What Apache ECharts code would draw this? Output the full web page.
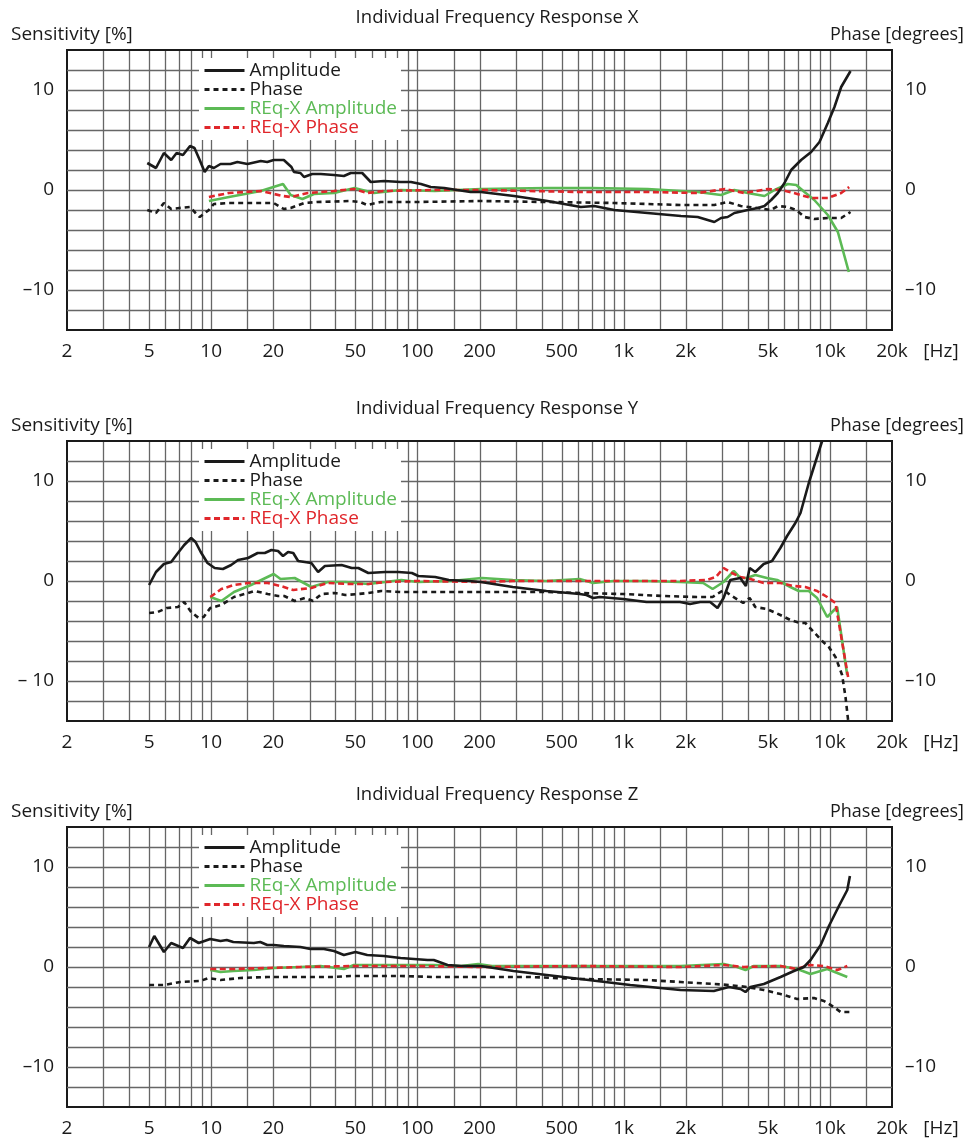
<!DOCTYPE html>
<html>
<head>
<meta charset="utf-8">
<title>Individual Frequency Response</title>
<script src="https://cdn.jsdelivr.net/npm/echarts@6/dist/echarts.min.js"></script>
<style>
html, body { margin: 0; padding: 0; background: #fff; }
#main { width: 971px; height: 1139px; }
</style>
</head>
<body>
<div id="main"></div>
<script>
// ---- data: [frequency Hz, value] ----
var ampX = [[4.9,2.7],[5.4,2.2],[5.9,3.7],[6.4,3.0],[6.8,3.7],[7.3,3.5],[7.9,4.4],[8.3,4.2],[8.8,3.0],[9.3,1.8],[9.75,2.4],[10.3,2.2],[11.1,2.6],[12.4,2.6],[13.4,2.8],[15,2.6],[17.4,2.9],[18.7,2.8],[20.1,3.0],[22.5,3.0],[24.5,2.3],[25.2,1.8],[27.1,1.7],[28.2,1.3],[30.9,1.6],[34,1.6],[39.4,1.5],[44,1.4],[47.5,1.7],[54,1.7],[59.4,0.8],[68.9,0.9],[83,0.8],[93,0.8],[104,0.6],[116,0.3],[135,0.2],[156,0],[181,-0.2],[203,-0.2],[294,-0.6],[427,-1.1],[620,-1.7],[720,-1.6],[900,-2.0],[1306,-2.3],[1896,-2.6],[2285,-2.7],[2752,-3.2],[2966,-2.8],[3193,-2.7],[3442,-2.3],[3993,-2.0],[4467,-1.8],[4815,-1.6],[5188,-1.0],[5588,-0.3],[6025,0.7],[6490,2.0],[7250,3.0],[8110,3.8],[8900,4.8],[9770,6.7],[10520,8.3],[11340,10.3],[12590,11.9]];
var phaseX = [[4.9,-2.0],[5.4,-2.3],[5.9,-1.3],[6.4,-1.9],[7.0,-1.8],[7.9,-1.7],[8.4,-2.3],[8.8,-2.7],[9.75,-2.0],[10.3,-1.4],[12.2,-1.3],[15.2,-1.3],[20.1,-1.3],[22.5,-1.9],[24.3,-1.8],[28.2,-1.3],[32.5,-1.2],[47.5,-1.1],[52.7,-1.2],[57,-1.5],[66.3,-1.2],[100,-1.2],[203,-1.1],[427,-1.2],[900,-1.3],[1896,-1.5],[2752,-1.5],[3193,-1.2],[3700,-1.6],[4467,-1.8],[5188,-2.0],[5588,-1.6],[6250,-1.7],[6870,-2.0],[7530,-2.7],[8400,-2.9],[9770,-2.8],[11340,-2.8],[12590,-2.2]];
var reqAmpX = [[9.75,-1.1],[12.2,-0.7],[17.4,-0.1],[22.3,0.6],[24.3,-0.5],[27.7,-0.9],[31.5,-0.4],[39.4,-0.3],[49.5,0.2],[61.6,-0.3],[83,0],[121,-0.1],[203,0.1],[427,0.2],[694,0.2],[1306,0.1],[2285,-0.2],[2966,-0.5],[3442,0],[3993,-0.3],[4815,-0.6],[5390,0],[6250,0.6],[6870,0.5],[7530,-0.2],[8400,-1.0],[9770,-2.5],[10930,-4.2],[12350,-8.2]];
var reqPhaseX = [[9.75,-0.7],[12.2,-0.3],[17.4,-0.1],[22.3,-0.6],[24.3,-0.7],[29.4,-0.3],[39.4,-0.1],[49.5,0.1],[57,-0.3],[68.9,-0.1],[121,0],[203,0],[620,-0.2],[1306,-0.2],[2285,-0.3],[3100,0.1],[3850,-0.3],[5000,0.1],[5800,0],[6700,-0.3],[8110,-0.8],[9770,-0.8],[11340,-0.3],[12400,0.3]];

var ampY = [[5.0,-0.4],[5.4,0.9],[5.9,1.7],[6.4,1.9],[6.9,2.8],[7.4,3.6],[8.0,4.3],[8.4,3.9],[8.9,2.9],[9.6,1.8],[10.4,1.3],[11.4,1.2],[12.5,1.6],[13.5,2.1],[15.1,2.3],[16.8,2.8],[18.2,2.8],[19.6,3.1],[21.1,3.0],[22.3,2.5],[23.6,2.9],[25,2.8],[26.4,2.0],[30.6,1.8],[33,0.9],[35.6,1.5],[42.9,1.6],[48,1.3],[51.7,1.3],[57.8,0.8],[69.7,0.9],[80.9,0.9],[94,0.8],[101,0.5],[122,0.4],[142,0.1],[177,0],[203,-0.1],[290,-0.6],[422,-1.0],[612,-1.3],[660,-1.4],[711,-1.7],[766,-1.6],[995,-1.8],[1291,-2.1],[1876,-2.1],[2099,-2.3],[2350,-2.1],[2626,-2.1],[2851,-2.7],[3050,-1.7],[3287,0.1],[3675,0.3],[3915,-0.5],[4082,1.3],[4347,0.9],[4775,1.7],[5240,2.0],[5750,3.3],[6200,4.5],[6800,5.8],[7200,6.8],[7900,9.8],[8510,11.9],[9170,14.0]];
var phaseY = [[5.0,-3.2],[5.5,-3.1],[6.1,-2.7],[6.9,-2.6],[7.4,-2.1],[8.0,-3.1],[8.7,-3.7],[9.2,-3.6],[9.9,-2.7],[11.2,-2.4],[12.9,-1.6],[15.1,-1.2],[16.3,-1.0],[18.8,-1.3],[21.1,-1.5],[22.6,-1.5],[25.4,-2.0],[28.5,-1.7],[31.2,-2.0],[34.3,-1.3],[39.8,-1.2],[44.7,-1.4],[51.7,-1.3],[57.8,-1.2],[66.7,-1.0],[83.5,-1.1],[97,-1.1],[122,-1.1],[203,-1.1],[422,-1.1],[612,-1.2],[995,-1.3],[1560,-1.5],[2265,-1.6],[2700,-1.6],[3050,-0.9],[3287,-1.4],[3800,-2.2],[4082,-1.7],[4347,-2.6],[4950,-2.8],[5750,-3.4],[6430,-3.9],[7200,-4.2],[7600,-4.2],[8350,-5.1],[9170,-6.0],[9880,-6.6],[10640,-7.6],[11460,-9.4],[11900,-11.6],[12250,-13.9]];
var reqAmpY = [[9.9,-1.6],[11.2,-2.0],[12.9,-1.1],[15.6,-0.4],[17.5,0.1],[20.1,0.7],[21.7,0.2],[25.4,0.3],[30.6,-0.6],[36.8,-0.1],[44.7,-0.1],[57.8,-0.3],[69.7,-0.1],[83.5,0.1],[101,-0.1],[146,0],[206,0.3],[290,0.1],[422,0.0],[612,0.2],[711,-0.2],[890,0],[1291,0],[1876,-0.1],[2430,-0.2],[2700,-0.8],[3050,-0.1],[3420,1.0],[3675,0.3],[3960,0.3],[4347,0.6],[4950,0.3],[5550,0.1],[6430,-0.6],[7060,-1.0],[7900,-1.0],[8670,-1.7],[9700,-3.6],[10840,-2.6],[12130,-9.4]];
var reqPhaseY = [[9.9,-1.6],[11.2,-0.8],[12.9,-0.4],[15.1,-0.2],[18.8,-0.2],[21.7,-0.5],[25,-0.9],[30.6,-0.7],[36.8,-0.2],[48,-0.3],[57.8,-0.3],[69.7,-0.1],[101,0],[203,-0.1],[290,0],[612,0],[1291,0],[1876,0],[2520,0.1],[2800,0.4],[3050,1.3],[3350,0.8],[3675,0.4],[4110,0.2],[4775,-0.2],[5750,-0.2],[6650,-0.5],[7600,-0.6],[8670,-1.0],[9700,-1.6],[10640,-2.2],[12250,-9.6]];

var ampZ = [[5.0,2.0],[5.3,3.1],[5.9,1.5],[6.4,2.4],[7.3,1.9],[7.9,2.9],[8.7,2.4],[9.9,2.8],[11.1,2.6],[11.9,2.7],[12.8,2.5],[16.1,2.4],[17.3,2.5],[18.7,2.2],[20.1,2.2],[22.5,2.1],[27.1,2.0],[30.3,1.8],[35.2,1.8],[39.4,1.6],[44,1.2],[50.1,1.5],[57.1,1.2],[68.8,1.1],[82.9,0.9],[96.3,0.8],[112,0.7],[120,0.7],[140,0.2],[163,0.1],[203,0.1],[292,-0.4],[424,-0.8],[616,-1.2],[894,-1.6],[1077,-1.8],[1506,-2.1],[1884,-2.3],[2735,-2.4],[3235,-2.0],[3685,-2.2],[3896,-2.5],[4120,-2.0],[4783,-1.7],[5763,-1.0],[6690,-0.4],[7480,0],[8060,0.7],[9020,2.2],[9890,4.1],[11060,6.1],[12140,7.7],[12500,9.1]];
var phaseZ = [[5.0,-1.8],[5.9,-1.8],[7.1,-1.5],[8.85,-1.4],[9.7,-1.1],[11.1,-1.3],[13.8,-1.1],[18.7,-1.0],[39.4,-1.0],[47.5,-0.9],[57.1,-0.9],[82.9,-0.9],[120,-1.0],[352,-1.0],[616,-1.2],[1298,-1.3],[1884,-1.5],[2735,-1.7],[3235,-1.8],[3960,-2.0],[4783,-2.3],[5763,-2.7],[6940,-3.2],[8370,-3.1],[9350,-3.4],[10460,-4.0],[11270,-4.5],[12500,-4.5]];
var reqAmpZ = [[9.9,-0.3],[11.1,-0.5],[12.8,-0.4],[16.1,-0.3],[20.1,-0.1],[27.1,0],[33.9,0.1],[44,-0.2],[49.2,0.2],[68.8,0.2],[100,0.2],[120,0.2],[163,0.1],[197,0.3],[230,0.1],[424,0.1],[1205,0.1],[1884,0.1],[3060,0.3],[3550,0],[3896,-0.3],[4280,0.1],[5763,0.1],[6940,-0.2],[8060,-0.7],[9710,-0.2],[12140,-1.0]];
var reqPhaseZ = [[9.9,-0.2],[12.8,-0.2],[18.7,-0.1],[27.1,0],[49.2,0.1],[100,0.1],[203,0],[616,0.1],[1884,0],[3060,0.2],[3820,0],[5763,0.1],[6940,-0.2],[7900,0.2],[9350,0.1],[10860,-0.3],[12140,0.1]];

// x tick labels and the frequencies that get a vertical grid line
var xLabelVals = [2, 5, 10, 20, 50, 100, 200, 500, 1000, 2000, 5000, 10000, 20000];
var xLabelText = ['2', '5', '10', '20', '50', '100', '200', '500', '1k', '2k', '5k', '10k', '20k'];
var gridMults = [1, 1.5, 2, 3, 4, 5, 6, 7, 8, 9];
var legendNames = ['Amplitude', 'Phase', 'REq-X Amplitude', 'REq-X Phase'];

var FONT = '"Open Sans", "Noto Sans", sans-serif';
var BLACK = '#1a1a1a', GREEN = '#5cba55', RED = '#e0262b', GRIDC = '#666666';
var FS = 19;
var gridTops = [50, 441, 827];

var panels = [
	{ title: 'Individual Frequency Response X', amp: ampX, phase: phaseX, reqAmp: reqAmpX, reqPhase: reqPhaseX, minus: '–10' },
	{ title: 'Individual Frequency Response Y', amp: ampY, phase: phaseY, reqAmp: reqAmpY, reqPhase: reqPhaseY, minus: '– 10' },
	{ title: 'Individual Frequency Response Z', amp: ampZ, phase: phaseZ, reqAmp: reqAmpZ, reqPhase: reqPhaseZ, minus: '–10' }
];

function lineSeries(name, data, g, yIdx, color, dash) {
	return {
		name: name,
		type: 'line',
		xAxisIndex: g,
		yAxisIndex: yIdx,
		data: data,
		symbol: 'none',
		silent: true,
		animation: false,
		lineStyle: { color: color, width: 2.6, type: dash || 'solid' },
		itemStyle: { color: color }
	};
}

function yAxis(g, pos, minus, grid) {
	return {
		gridIndex: g,
		type: 'value',
		position: pos,
		min: -14,
		max: 14,
		interval: 2,
		axisLine: { show: false },
		axisTick: { show: false },
		splitLine: {
			show: grid,
			showMinLine: false,
			showMaxLine: false,
			lineStyle: { color: GRIDC, width: 1.3 }
		},
		axisLabel: {
			margin: 13,
			fontSize: FS,
			fontFamily: FONT,
			color: BLACK,
			formatter: function(v) {
				if (v === 10) return '10';
				if (v === 0) return '0';
				if (v === -10) return minus;
				return '';
			}
		}
	};
}

var option = {
	backgroundColor: '#fff',
	animation: false,
	grid: [],
	xAxis: [],
	yAxis: [],
	legend: [],
	series: []
};

panels.forEach(function(p, g) {
	option.grid.push({
		left: 67, top: gridTops[g], width: 825, height: 280,
		show: true, borderColor: BLACK, borderWidth: 2, backgroundColor: 'transparent'
	});
	option.xAxis.push({
		gridIndex: g, type: 'log', logBase: 10, min: 2, max: 20000,
		axisLine: { show: false }, axisTick: { show: false },
		axisLabel: { show: false }, splitLine: { show: false }
	});
	option.yAxis.push(yAxis(g, 'left', p.minus, true));
	option.yAxis.push(yAxis(g, 'right', '–10', false));
	option.legend.push({
		orient: 'vertical',
		left: 199,
		top: gridTops[g] + 8,
		backgroundColor: '#fff',
		padding: [3, 4, 3, 4],
		itemGap: 0,
		itemWidth: 40,
		itemHeight: 19,
		selectedMode: false,
		// hide the round marker, keep the line
		itemStyle: { opacity: 0 },
		lineStyle: { width: 3 },
		textStyle: { fontSize: FS, fontFamily: FONT, color: BLACK },
		data: [
			{ name: legendNames[0], textStyle: { color: BLACK } },
			{ name: legendNames[1], textStyle: { color: BLACK } },
			{ name: legendNames[2], textStyle: { color: GREEN } },
			{ name: legendNames[3], textStyle: { color: RED } }
		]
	});
	option.series.push(lineSeries(legendNames[2], p.reqAmp, g, 2 * g, GREEN));
	option.series.push(lineSeries(legendNames[3], p.reqPhase, g, 2 * g + 1, RED, [6, 3.5]));
	option.series.push(lineSeries(legendNames[1], p.phase, g, 2 * g + 1, BLACK, [5, 4]));
	option.series.push(lineSeries(legendNames[0], p.amp, g, 2 * g, BLACK));
});

var chart = echarts.init(document.getElementById('main'), null, { renderer: 'canvas' });
chart.setOption(option);

// grid lines on the log axis, tick labels and headings, placed through the axes
var graphics = [];
function txt(x, y, s, align, size) {
	return {
		type: 'text', x: x, y: y, silent: true, z: 5,
		style: {
			text: s, font: (size || FS) + 'px ' + FONT, fill: BLACK,
			align: align, textAlign: align, verticalAlign: 'middle', textVerticalAlign: 'middle'
		}
	};
}
panels.forEach(function(p, g) {
	var top = chart.convertToPixel({ yAxisIndex: 2 * g }, 14);
	var bottom = chart.convertToPixel({ yAxisIndex: 2 * g }, -14);
	for (var d = 1; d <= 10000; d *= 10) {
		gridMults.forEach(function(m) {
			var f = m * d;
			if (f <= 2 || f >= 20000) return;
			var x = Math.round(chart.convertToPixel({ xAxisIndex: g }, f)) + 0.5;
			graphics.push({
				type: 'line', silent: true, z: 1,
				shape: { x1: x, y1: top + 1, x2: x, y2: bottom - 1 },
				style: { stroke: GRIDC, lineWidth: 1.3 }
			});
		});
	}
	xLabelVals.forEach(function(v, i) {
		graphics.push(txt(chart.convertToPixel({ xAxisIndex: g }, v), bottom + 22, xLabelText[i], 'center'));
	});
	graphics.push(txt(941, bottom + 22, '[Hz]', 'center'));
	graphics.push(txt(497, top - 32, p.title, 'center', 18.5));
	graphics.push(txt(11, top - 15, 'Sensitivity [%]', 'left'));
	graphics.push(txt(964, top - 15, 'Phase [degrees]', 'right', 18));
});
chart.setOption({ graphic: graphics });
</script>
</body>
</html>
